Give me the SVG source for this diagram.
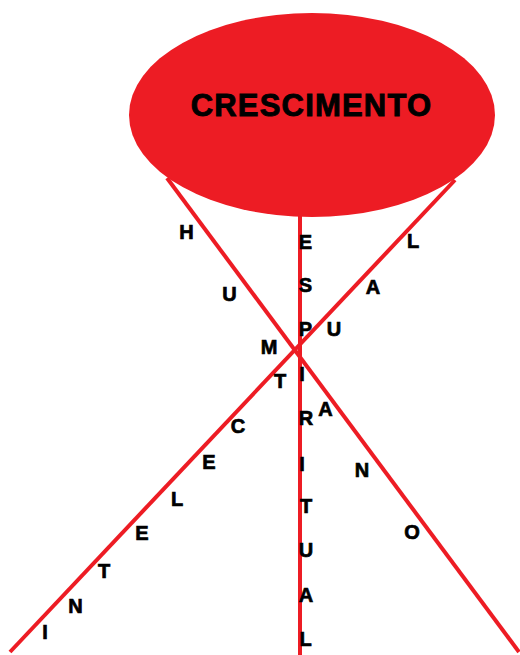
<svg xmlns="http://www.w3.org/2000/svg" width="520" height="655" viewBox="0 0 520 655">
<style>
.ln{stroke:#ED1C24;stroke-width:4;fill:none}
.t{font-family:"Liberation Sans",Arial,sans-serif;font-weight:bold;font-size:20px;fill:#000;stroke:#000;stroke-width:0.7;text-anchor:middle}
.big{font-family:"Liberation Sans",Arial,sans-serif;font-weight:bold;font-size:31px;fill:#000;stroke:#000;stroke-width:0.9;text-anchor:middle}
</style>
<rect width="520" height="655" fill="#fff"/>
<g id="connectors">
<line class="ln" x1="167" y1="178" x2="519" y2="652"/>
<line class="ln" x1="455" y1="180" x2="10" y2="652"/>
<line class="ln" x1="300" y1="212" x2="300" y2="655"/>
</g>
<g id="crescimento">
<ellipse cx="312" cy="115" rx="183" ry="102" fill="#ED1C24"/>
<text class="big" x="311.5" y="115.5" letter-spacing="1.2">CRESCIMENTO</text>
</g>
<g id="humano">
<text class="t" x="186.5" y="239">H</text>
<text class="t" x="229.5" y="301">U</text>
<text class="t" x="269" y="354">M</text>
<text class="t" x="325.5" y="416">A</text>
<text class="t" x="362" y="477">N</text>
<text class="t" x="412" y="539">O</text>
</g>
<g id="espiritual">
<text class="t" x="305.5" y="249">E</text>
<text class="t" x="305.5" y="292">S</text>
<text class="t" x="305.5" y="336">P</text>
<text class="t" x="302" y="381">I</text>
<text class="t" x="306" y="425">R</text>
<text class="t" x="302" y="471">I</text>
<text class="t" x="306" y="513">T</text>
<text class="t" x="306" y="557">U</text>
<text class="t" x="306" y="602">A</text>
<text class="t" x="305.5" y="646">L</text>
</g>
<g id="intelectual">
<text class="t" x="45" y="639">I</text>
<text class="t" x="75.5" y="613">N</text>
<text class="t" x="104" y="578">T</text>
<text class="t" x="142" y="540">E</text>
<text class="t" x="177" y="506">L</text>
<text class="t" x="209" y="469">E</text>
<text class="t" x="238" y="433">C</text>
<text class="t" x="280" y="388">T</text>
<text class="t" x="334" y="336">U</text>
<text class="t" x="373" y="294">A</text>
<text class="t" x="413" y="248">L</text>
</g>
</svg>
